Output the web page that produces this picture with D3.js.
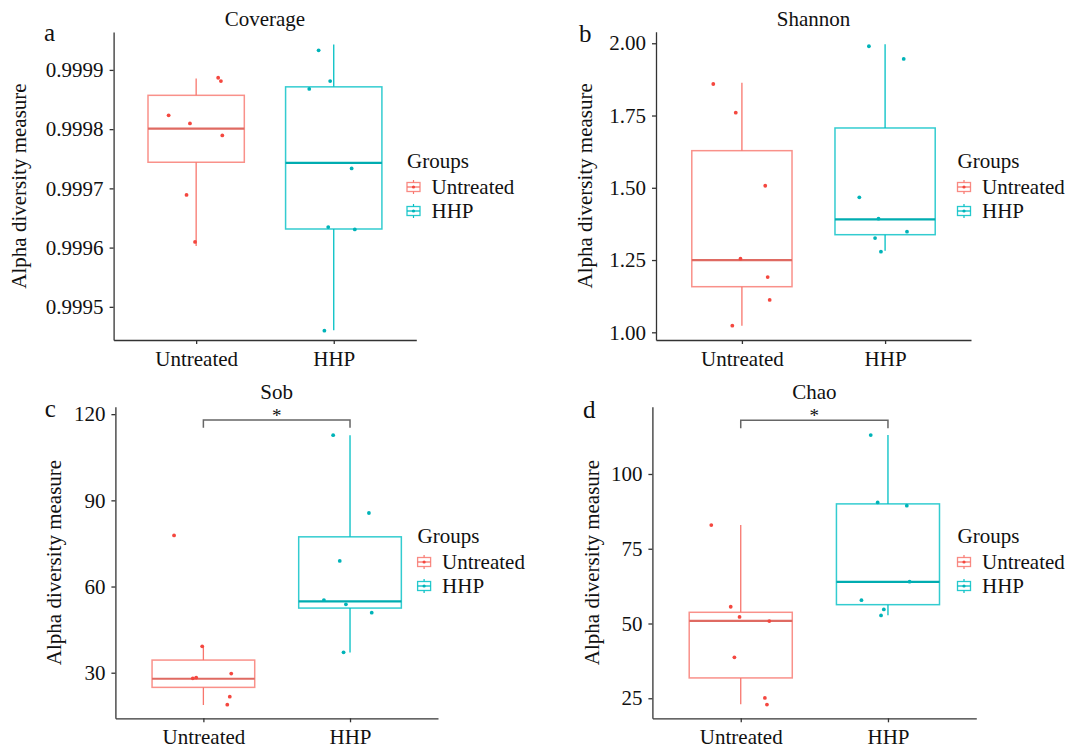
<!DOCTYPE html>
<html>
<head>
<meta charset="utf-8">
<script src="https://cdn.jsdelivr.net/npm/d3@7/dist/d3.min.js"></script>
<style>
  body { margin: 0; background: #fff; }
  svg text { font-family: "Liberation Serif", "Times New Roman", serif; fill: #111; }
  .axis path, .axis line { stroke: #333; stroke-width: 1.3; }
  .axis text { font-size: 21px; fill: #111; }
</style>
</head>
<body>
<svg id="chart" width="1067" height="751"></svg>
<script>
  // ---- data ----
  const groups = ["Untreated", "HHP"];
  const metrics = ["Coverage", "Shannon", "Sob", "Chao"];
  const panelLetters = ["a", "b", "c", "d"];
  const groupColors = ["#F8766D", "#00BFC4"];
  const pointColors = ["#F4473F", "#00B3B8"];

  // box stats per group: [lower whisker, q1, median, q3, upper whisker]
  const coverageBoxes = [
    [0.9996027, 0.9997441, 0.999801, 0.9998571, 0.9998856],
    [0.9994605, 0.9996314, 0.9997432, 0.9998714, 0.9999429]
  ];
  const shannonBoxes = [
    [1.0228, 1.1578, 1.25, 1.6284, 1.8637],
    [1.282, 1.3377, 1.391, 1.7069, 1.9965]
  ];
  const sobBoxes = [
    [18.76, 24.9, 27.9, 34.4, 39.05],
    [37.0, 52.5, 54.85, 77.3, 112.7]
  ];
  const chaoBoxes = [
    [23.0, 31.8, 50.9, 53.75, 82.9],
    [52.8, 56.3, 63.9, 90.0, 113.0]
  ];

  // sample values per group
  const coverageValues = [
    [0.9998868, 0.9998811, 0.9998233, 0.9998096, 0.9997894, 0.999689, 0.9996096],
    [0.999933, 0.9998811, 0.9998679, 0.9997336, 0.9996346, 0.9996307, 0.9994597]
  ];
  const shannonValues = [
    [1.859, 1.76, 1.507, 1.2547, 1.191, 1.112, 1.023],
    [1.9896, 1.9457, 1.467, 1.393, 1.326, 1.348, 1.279]
  ];
  const sobValues = [
    [77.8, 39.2, 28.3, 28.05, 29.7, 21.65, 18.86],
    [112.7, 85.6, 68.9, 55.3, 53.8, 50.9, 37.1]
  ];
  const chaoValues = [
    [82.9, 55.6, 52.2, 50.8, 38.7, 25.1, 22.9],
    [113.0, 90.5, 89.4, 64.0, 57.8, 54.7, 52.7]
  ];

  // horizontal jitter of each point, as a fraction of the category step
  const coverageJitter = [
    [0.16, 0.18, -0.2, -0.045, 0.19, -0.07, -0.008],
    [-0.11, -0.026, -0.178, 0.13, -0.04, 0.153, -0.068]
  ];
  const shannonJitter = [
    [-0.2, -0.043, 0.163, -0.01, 0.18, 0.194, -0.067],
    [-0.113, 0.13, -0.18, -0.046, -0.07, 0.153, -0.029]
  ];
  const sobJitter = [
    [-0.2, -0.008, -0.049, -0.072, 0.19, 0.18, 0.163],
    [-0.115, 0.129, -0.07, -0.178, -0.028, 0.148, -0.044]
  ];
  const chaoJitter = [
    [-0.2, -0.068, -0.008, 0.194, -0.043, 0.164, 0.178],
    [-0.117, -0.07, 0.128, 0.147, -0.18, -0.028, -0.047]
  ];

  const coverageTicks = [0.9995, 0.9996, 0.9997, 0.9998, 0.9999];
  const shannonTicks = [1.0, 1.25, 1.5, 1.75, 2.0];
  const sobTicks = [30, 60, 90, 120];
  const chaoTicks = [25, 50, 75, 100];

  // significance label (null = none)
  const signifLabels = [null, null, "*", "*"];

  // ---- layout ----
  const panels = [
    { boxes: coverageBoxes, values: coverageValues, jitter: coverageJitter, ticks: coverageTicks,
      fmt: d3.format(".4f"), domain: [0.999444, 0.999964],
      left: 113.6, right: 416.3, top: 32, bottom: 340,
      titleY: 26, letterX: 44, letterY: 41, yTitleX: 19, legendX: 406, legendY: 161 },
    { boxes: shannonBoxes, values: shannonValues, jitter: shannonJitter, ticks: shannonTicks,
      fmt: d3.format(".2f"), domain: [0.9734, 2.04],
      left: 656, right: 971, top: 31.7, bottom: 340,
      titleY: 26, letterX: 579, letterY: 42, yTitleX: 585, legendX: 956.5, legendY: 161 },
    { boxes: sobBoxes, values: sobValues, jitter: sobJitter, ticks: sobTicks,
      fmt: d3.format("d"), domain: [14.13, 122.6],
      left: 115.4, right: 438, top: 406.7, bottom: 718.3,
      titleY: 399, letterX: 44.7, letterY: 417, yTitleX: 53.4, legendX: 416.6, legendY: 536,
      bracket: [118, 115.3] },
    { boxes: chaoBoxes, values: chaoValues, jitter: chaoJitter, ticks: chaoTicks,
      fmt: d3.format("d"), domain: [18.3, 122.5],
      left: 652.4, right: 976.3, top: 406.7, bottom: 718.3,
      titleY: 399, letterX: 583, letterY: 417.5, yTitleX: 591.8, legendX: 956.5, legendY: 536,
      bracket: [118, 115.3] }
  ];

  const serif = '"Liberation Serif", "Times New Roman", serif';
  const svg = d3.select("#chart");

  panels.forEach((p, i) => drawPanel(p, i));

  function drawPanel(p, i) {
    const g = svg.append("g");

    const x = d3.scalePoint().domain(groups).range([p.left, p.right]).padding(0.6);
    const y = d3.scaleLinear().domain(p.domain).range([p.bottom, p.top]);
    const step = x.step();
    const boxW = step * 0.7;

    // axes
    g.append("g")
      .attr("class", "axis")
      .attr("transform", `translate(${p.left},0)`)
      .call(d3.axisLeft(y).tickValues(p.ticks).tickFormat(p.fmt).tickSize(4).tickPadding(6).tickSizeOuter(0))
      .attr("font-family", serif);

    g.append("g")
      .attr("class", "axis")
      .attr("transform", `translate(0,${p.bottom})`)
      .call(d3.axisBottom(x).tickSize(4).tickPadding(7).tickSizeOuter(0))
      .attr("font-family", serif);

    // boxplots
    groups.forEach((grp, gi) => {
      const b = p.boxes[gi];
      const cx = x(grp);
      const col = groupColors[gi];
      const bg = g.append("g");

      // whiskers
      bg.append("line")
        .attr("x1", cx).attr("x2", cx)
        .attr("y1", y(b[3])).attr("y2", y(b[4]))
        .attr("stroke", col).attr("stroke-width", 1.3);
      bg.append("line")
        .attr("x1", cx).attr("x2", cx)
        .attr("y1", y(b[0])).attr("y2", y(b[1]))
        .attr("stroke", col).attr("stroke-width", 1.3);

      bg.append("rect")
        .attr("x", cx - boxW / 2)
        .attr("y", y(b[3]))
        .attr("width", boxW)
        .attr("height", y(b[1]) - y(b[3]))
        .attr("fill", "none")
        .attr("stroke", col)
        .attr("stroke-opacity", 0.8)
        .attr("stroke-width", 1.5);

      bg.append("line")
        .attr("x1", cx - boxW / 2).attr("x2", cx + boxW / 2)
        .attr("y1", y(b[2])).attr("y2", y(b[2]))
        .attr("stroke", d3.color(col).darker(0.3))
        .attr("stroke-width", 2.2);

      // jittered points
      bg.selectAll("circle")
        .data(p.values[gi])
        .join("circle")
        .attr("cx", (d, k) => cx + p.jitter[gi][k] * step)
        .attr("cy", d => y(d))
        .attr("r", 1.9)
        .attr("fill", pointColors[gi]);
    });

    // significance bracket
    if (signifLabels[i]) {
      const x1 = x(groups[0]), x2 = x(groups[1]);
      const yb = y(p.bracket[0]), yt = y(p.bracket[1]);
      g.append("path")
        .attr("d", `M${x1},${yt}V${yb}H${x2}V${yt}`)
        .attr("fill", "none")
        .attr("stroke", "#666")
        .attr("stroke-width", 1.5);
      g.append("text")
        .attr("x", (x1 + x2) / 2)
        .attr("y", yb + 2)
        .attr("text-anchor", "middle")
        .attr("font-size", 19)
        .text(signifLabels[i]);
    }

    // title, panel letter, y title
    g.append("text")
      .attr("x", (p.left + p.right) / 2)
      .attr("y", p.titleY)
      .attr("text-anchor", "middle")
      .attr("font-size", 21)
      .text(metrics[i]);

    g.append("text")
      .attr("x", p.letterX)
      .attr("y", p.letterY)
      .attr("font-size", 25)
      .text(panelLetters[i]);

    g.append("text")
      .attr("transform", `translate(${p.yTitleX},${(p.top + p.bottom) / 2}) rotate(-90)`)
      .attr("text-anchor", "middle")
      .attr("dy", "0.35em")
      .attr("font-size", 21)
      .text("Alpha diversity measure");

    drawLegend(g, p.legendX, p.legendY);
  }

  function drawLegend(g, lx, ly) {
    const lg = g.append("g").attr("transform", `translate(${lx},${ly})`);
    lg.append("text")
      .attr("x", 1)
      .attr("y", 0)
      .attr("dy", "0.35em")
      .attr("font-size", 21)
      .text("Groups");

    groups.forEach((grp, gi) => {
      const ey = 26 + gi * 24;
      const col = groupColors[gi];
      const k = lg.append("g").attr("transform", `translate(0,${ey})`);
      k.append("line").attr("x1", 7.5).attr("x2", 7.5).attr("y1", -7).attr("y2", 7)
        .attr("stroke", col).attr("stroke-width", 1.2);
      k.append("rect").attr("x", 1).attr("y", -4.5).attr("width", 13).attr("height", 9)
        .attr("fill", "#fff").attr("stroke", col).attr("stroke-width", 1.3).attr("stroke-opacity", 0.85);
      k.append("line").attr("x1", 1).attr("x2", 14).attr("y1", 0).attr("y2", 0)
        .attr("stroke", col).attr("stroke-width", 1.3);
      k.append("circle").attr("cx", 7.5).attr("cy", 0).attr("r", 1.6).attr("fill", pointColors[gi]);
      k.append("text")
        .attr("x", 25.5)
        .attr("y", 0)
        .attr("dy", "0.35em")
        .attr("font-size", 21)
        .text(grp);
    });
  }
</script>
</body>
</html>
